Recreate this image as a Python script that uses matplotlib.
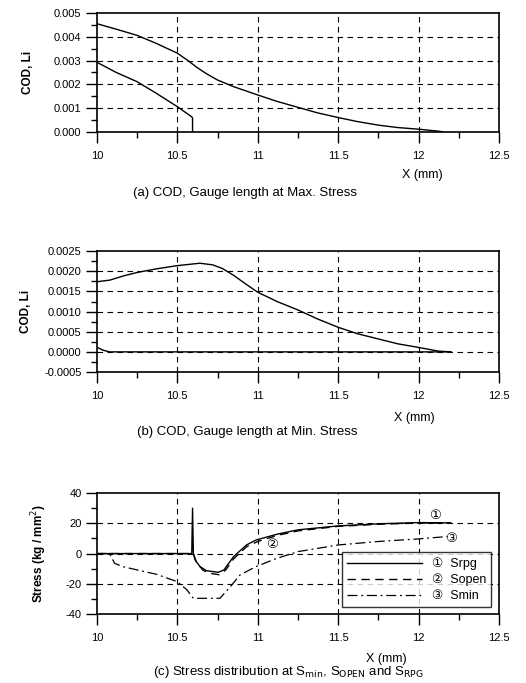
import matplotlib
matplotlib.use("Agg")
import matplotlib.pyplot as plt
from matplotlib.ticker import MultipleLocator, FormatStrFormatter

plt.rcParams['font.family'] = ['Liberation Sans', 'DejaVu Sans', 'Noto Sans CJK JP']

# (a) COD at max stress
xa_upper = [10.0, 10.12, 10.25, 10.37, 10.5, 10.57, 10.62, 10.68, 10.75, 10.85, 11.0, 11.12, 11.25,
            11.37, 11.5, 11.62, 11.75, 11.87, 12.0, 12.12, 12.15]
ya_upper = [0.00455, 0.00432, 0.00406, 0.00372, 0.00331, 0.00298, 0.00272, 0.00245, 0.00218, 0.00190,
            0.00155, 0.00128, 0.00103, 0.00080, 0.00060, 0.00043, 0.00028, 0.00018, 0.00011, 0.00003, 0.0]
xa_lower = [10.0, 10.12, 10.25, 10.37, 10.5, 10.59, 10.595, 10.595]
ya_lower = [0.00293, 0.0025, 0.00211, 0.00162, 0.00106, 0.00063, 0.00058, 0.0]

# (b) COD at min stress
xb_upper = [10.0, 10.08, 10.17, 10.25, 10.37, 10.5, 10.64, 10.72, 10.78, 10.85, 10.92, 11.0, 11.12, 11.25,
            11.37, 11.5, 11.62, 11.75, 11.87, 12.0, 12.12, 12.2]
yb_upper = [0.00174, 0.00178, 0.00189, 0.00197, 0.00206, 0.00214, 0.0022, 0.00216, 0.00207, 0.0019, 0.0017,
            0.00148, 0.00125, 0.00104, 0.00082, 0.00061, 0.00045, 0.00032, 0.0002, 0.00011, 0.00002, 0.0]
xb_lower = [10.0, 10.04, 10.08, 12.2]
yb_lower = [0.00012, 0.00004, 0.0, 0.0]

# (c) stress distribution
x_srpg = [10.0, 10.59, 10.595, 10.6, 10.61, 10.64, 10.68, 10.755, 10.79, 10.85, 10.93, 10.99, 11.12, 11.25,
          11.5, 11.75, 12.0, 12.2]
y_srpg = [0, 0, 30, 0, -4, -8.5, -11.3, -12.4, -10.8, -2, 5.7, 9, 12.8, 15.7, 18.3, 19.7, 20.5, 20.3]
x_sopen = [10.0, 10.6, 10.62, 10.66, 10.7, 10.76, 10.8, 10.85, 10.93, 11.0, 11.12, 11.25, 11.5, 11.75, 12.0, 12.2]
y_sopen = [0, 0, -6, -11, -13, -14, -11, -3.5, 4.5, 8, 12, 15, 18, 19.4, 20.2, 20.3]
x_smin = [10.0, 10.08, 10.11, 10.16, 10.25, 10.37, 10.5, 10.56, 10.6, 10.765, 10.83, 10.89, 10.99, 11.12,
          11.25, 11.5, 11.75, 12.0, 12.18]
y_smin = [0, 0, -6.4, -8.6, -10.8, -13.7, -18.6, -24, -29.6, -29.6, -21.9, -14.1, -8.6, -3.1, 1.3, 5.7, 8,
          9.7, 11.3]

legend_labels = ['\u2460  Srpg', '\u2461  Sopen', '\u2462  Smin']

fs = 8
grid_kw = dict(color='black', linestyle=(0, (5, 4)), linewidth=0.8)


def style_axes(ax, ymin, ymax, ymajor, yfmt):
    ax.set_xlim(10, 12.5)
    ax.set_ylim(ymin, ymax)
    ax.xaxis.set_major_locator(MultipleLocator(0.5))
    ax.xaxis.set_minor_locator(MultipleLocator(0.25))
    ax.yaxis.set_major_locator(MultipleLocator(ymajor))
    ax.yaxis.set_minor_locator(MultipleLocator(ymajor / 2))
    ax.xaxis.set_major_formatter(plt.FuncFormatter(lambda v, p: ('%g' % v)))
    ax.yaxis.set_major_formatter(FormatStrFormatter(yfmt))
    ax.tick_params(which='major', length=8, width=1, labelsize=fs, pad=3)
    ax.tick_params(axis='x', which='major', pad=6)
    ax.tick_params(which='minor', length=4, width=1)
    for s in ax.spines.values():
        s.set_linewidth(1.2)
    # dashed grid at interior ticks
    for xv in [10.5, 11.0, 11.5, 12.0]:
        ax.axvline(xv, **grid_kw, zorder=0)
    yv = ymin + ymajor
    while yv < ymax - 1e-9:
        ax.axhline(yv, **grid_kw, zorder=0)
        yv += ymajor


fig = plt.figure(figsize=(5.26, 6.83), dpi=100)

ax1 = fig.add_axes([0.184, 0.807, 0.765, 0.174])
style_axes(ax1, 0, 0.005, 0.001, '%.3f')
ax1.plot(xa_upper, ya_upper, color='black', lw=1)
ax1.plot(xa_lower, ya_lower, color='black', lw=1)
ax1.set_ylabel('COD, Li', fontsize=8.5, fontweight='bold', labelpad=14)
ax1.text(0.81, -0.36, 'X (mm)', transform=ax1.transAxes, fontsize=9, ha='center', va='center')
fig.text(0.465, 1 - 193 / 683, '(a) COD, Gauge length at Max. Stress', fontsize=9.5, ha='center', va='center')

ax2 = fig.add_axes([0.184, 0.4553, 0.765, 0.177])
style_axes(ax2, -0.0005, 0.0025, 0.0005, '%.4f')
ax2.plot(xb_upper, yb_upper, color='black', lw=1)
ax2.plot(xb_lower, yb_lower, color='black', lw=1)
ax2.set_ylabel('COD, Li', fontsize=8.5, fontweight='bold', labelpad=9)
ax2.text(0.79, -0.38, 'X (mm)', transform=ax2.transAxes, fontsize=9, ha='center', va='center')
fig.text(0.47, 1 - 432 / 683, '(b) COD, Gauge length at Min. Stress', fontsize=9.5, ha='center', va='center')

ax3 = fig.add_axes([0.184, 0.101, 0.765, 0.177])
style_axes(ax3, -40, 40, 20, '%d')
l1, = ax3.plot(x_srpg, y_srpg, color='black', lw=1)
l2, = ax3.plot(x_sopen, y_sopen, color='black', lw=1, linestyle=(0, (6, 4)))
l3, = ax3.plot(x_smin, y_smin, color='black', lw=0.9, linestyle=(0, (8, 3, 1.5, 3)))
ax3.set_ylabel('Stress (kg / mm$^2$)', fontsize=8.5, fontweight='bold', labelpad=12)
ax3.text(0.72, -0.37, 'X (mm)', transform=ax3.transAxes, fontsize=9, ha='center', va='center')
ax3.text(12.1, 25, '\u2460', fontsize=9.5, ha='center', va='center')
ax3.text(11.09, 6, '\u2461', fontsize=9.5, ha='center', va='center')
ax3.text(12.2, 9.5, '\u2462', fontsize=9.5, ha='center', va='center')
leg = ax3.legend([l1, l2, l3], legend_labels, loc='lower right', bbox_to_anchor=(0.995, 0.005),
                 fontsize=9, handlelength=6, frameon=True, fancybox=False,
                 edgecolor='black', borderpad=0.4, labelspacing=0.3)
leg.get_frame().set_linewidth(1)
fig.text(0.548, 1 - 672 / 683, '(c) Stress distribution at S$_{\\rm min}$, S$_{\\rm OPEN}$ and S$_{\\rm RPG}$',
         fontsize=9.5, ha='center', va='center')

fig.savefig('out.png', dpi=100)
